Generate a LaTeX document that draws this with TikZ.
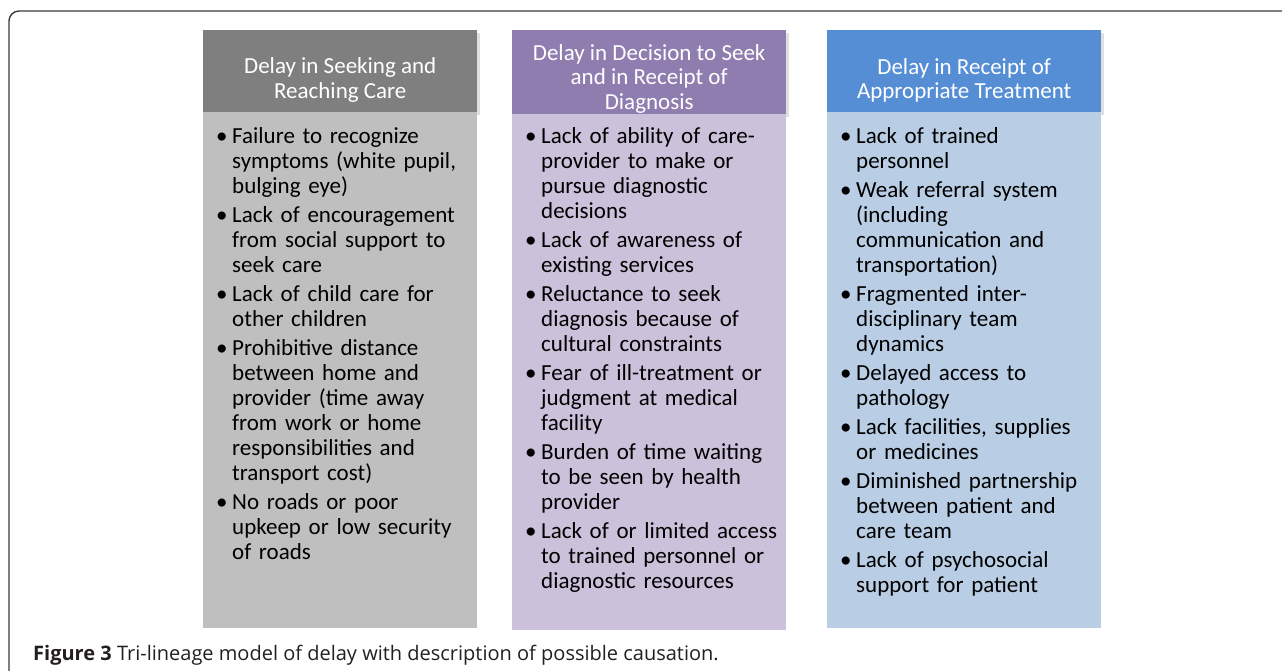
\documentclass[tikz,border=0pt]{standalone}
\usepackage{fontspec}
\setmainfont{Carlito}
\newfontfamily\captionfont{Open Sans}
\usetikzlibrary{shadows}

\definecolor{grayhead}{HTML}{7F7F7F}
\definecolor{graybody}{HTML}{BFBFBF}
\definecolor{purplehead}{HTML}{8F7DB0}
\definecolor{purplebody}{HTML}{CCC1DA}
\definecolor{bluehead}{HTML}{558ED5}
\definecolor{bluebody}{HTML}{B9CDE5}
\definecolor{framegray}{HTML}{3A3A3A}
\definecolor{captiontext}{HTML}{231F20}

\newcommand{\bitem}[1]{\hangindent=16pt\hangafter=1\noindent\makebox[16pt][l]{\textbullet}#1\par}

\begin{document}
\begin{tikzpicture}[x=1pt,y=-1pt,
    headbox/.style={anchor=north west, minimum width=274pt, inner sep=0pt,
        drop shadow={shadow xshift=2.5pt, shadow yshift=-3pt, opacity=0.25}},
    bodybox/.style={anchor=north west, minimum width=274pt, minimum height=516pt, inner sep=0pt},
    titletext/.style={text=white, align=center, inner sep=0pt, font=\fontsize{23}{24.5}\selectfont},
    items/.style={anchor=base west, inner sep=0pt, text width=262pt,
        font=\fontsize{23}{25}\selectfont, execute at begin node={\setlength{\parskip}{4pt}}}
    ]
    \useasboundingbox (0,0) rectangle (1282,671);

    \draw[framegray, line width=1.4pt, rounded corners=10pt] (9,671) -- (9,11) -- (1282,11);

    % headers first, so the bodies cover the shadows
    \node[headbox, fill=grayhead, minimum height=82pt] (head1) at (203,30) {};
    \node[headbox, fill=purplehead, minimum height=84pt] (head2) at (512,30) {};
    \node[headbox, fill=bluehead, minimum height=82pt] (head3) at (827,30) {};

    \node[bodybox, fill=graybody] (body1) at (203,112) {};
    \node[bodybox, fill=purplebody] (body2) at (512,114) {};
    \node[bodybox, fill=bluebody] (body3) at (827,112) {};

    \node[titletext] (title1) at ([yshift=-9pt]head1.center) {Delay in Seeking and\\Reaching Care};
    \node[titletext] (title2) at ([yshift=-6.5pt]head2.center) {Delay in Decision to Seek\\and in Receipt of\\Diagnosis};
    \node[titletext] (title3) at ([yshift=-9pt]head3.center) {Delay in Receipt of\\Appropriate Treatment};

    \node[items] (list1) at (216,144) {%
        \bitem{Failure to recognize\newline symptoms (white pupil,\newline bulging eye)}
        \bitem{Lack of encouragement\newline from social support to\newline seek care}
        \bitem{Lack of child care for\newline other children}
        \bitem{Prohibitive distance\newline between home and\newline provider (time away\newline from work or home\newline responsibilities and\newline transport cost)}
        \bitem{No roads or poor\newline upkeep or low security\newline of roads}};

    \node[items] (list2) at (525,144) {%
        \bitem{Lack of ability of care-\newline provider to make or\newline pursue diagnostic\newline decisions}
        \bitem{Lack of awareness of\newline existing services}
        \bitem{Reluctance to seek\newline diagnosis because of\newline cultural constraints}
        \bitem{Fear of ill-treatment or\newline judgment at medical\newline facility}
        \bitem{Burden of time waiting\newline to be seen by health\newline provider}
        \bitem{Lack of or limited access\newline to trained personnel or\newline diagnostic resources}};

    \node[items] (list3) at (840,144) {%
        \bitem{Lack of trained\newline personnel}
        \bitem{Weak referral system\newline (including\newline communication and\newline transportation)}
        \bitem{Fragmented inter-\newline disciplinary team\newline dynamics}
        \bitem{Delayed access to\newline pathology}
        \bitem{Lack facilities, supplies\newline or medicines}
        \bitem{Diminished partnership\newline between patient and\newline care team}
        \bitem{Lack of psychosocial\newline support for patient}};

    \node[anchor=base west, inner sep=0pt, text=captiontext, font=\captionfont\fontsize{20}{23}\selectfont] (caption) at (33,660)
        {\textbf{Figure 3} Tri-lineage model of delay with description of possible causation.};
\end{tikzpicture}
\end{document}
